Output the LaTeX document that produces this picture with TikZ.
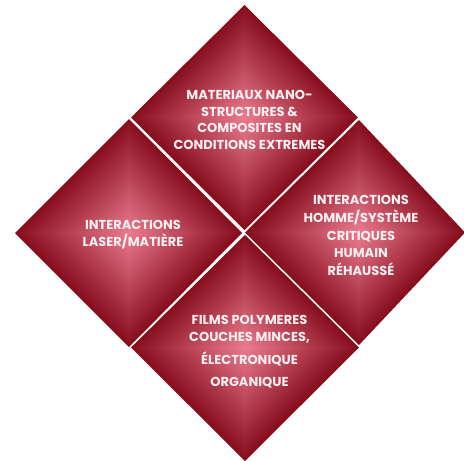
\documentclass[tikz,border=0pt]{standalone}
\usepackage{fontspec}
\setmainfont{Poppins}
\newfontfamily\lblfont{Poppins}
\usetikzlibrary{calc}
\definecolor{darkc}{HTML}{880E1E}
\definecolor{pinkc}{HTML}{EA7A8E}
\definecolor{txtc}{HTML}{FAF0F1}
\newcommand\shadedia[5]{%
  \foreach \i in {0,...,47}{%
    \pgfmathsetmacro\s{1-\i/48}%
    \pgfmathsetmacro\p{\i*100/47}%
    \fill[pinkc!\p!darkc] ($(#1)!\s!(#2)$) -- ($(#1)!\s!(#3)$) -- ($(#1)!\s!(#4)$) -- ($(#1)!\s!(#5)$) -- cycle;
  }}
\tikzset{
  lbl/.style={text=txtc, align=center, inner sep=0pt,
    font=\lblfont\bfseries\fontsize{13}{16.6}\selectfont},
  lblwide/.style={lbl, font=\lblfont\bfseries\fontsize{13}{17.8}\selectfont}
}
\begin{document}
\begin{tikzpicture}[x=1pt,y=-1pt]
\useasboundingbox (0,0) rectangle (464,461);
\clip (0,0) rectangle (464,461);
% top diamond
\coordinate (tc) at (244.5,117.5);
\coordinate (tn) at (244.5,5);
\coordinate (tw) at (131,117.5);
\coordinate (ts) at (244.5,230);
\coordinate (te) at (358,117.5);
% left diamond
\coordinate (lc) at (129,233);
\coordinate (ln) at (129,119);
\coordinate (lw) at (15,233);
\coordinate (ls) at (129,347);
\coordinate (le) at (242,233);
% right diamond
\coordinate (rc) at (359,232.5);
\coordinate (rn) at (359,120);
\coordinate (rw) at (245,232.5);
\coordinate (rs) at (359,345);
\coordinate (re) at (465,232.5);
% bottom diamond
\coordinate (bc) at (245,347.5);
\coordinate (bn) at (245,235);
\coordinate (bw) at (131,347.5);
\coordinate (bs) at (245,461);
\coordinate (be) at (359,347.5);
\shadedia{tc}{tn}{te}{ts}{tw}
\shadedia{lc}{ln}{le}{ls}{lw}
\shadedia{rc}{rn}{re}{rs}{rw}
\shadedia{bc}{bn}{be}{bs}{bw}
\node[lbl] (ttop) at (249.5,120) {MATERIAUX NANO-\\STRUCTURES \&\\COMPOSITES EN\\CONDITIONS EXTREMES};
\node[lbl] (tleft) at (133,234.5) {INTERACTIONS\\LASER/MATIÈRE};
\node[lblwide] (tright) at (361,235.5) {INTERACTIONS\\HOMME/SYSTÈME\\CRITIQUES\\HUMAIN\\RÉHAUSSÉ};
\node[lbl] (tbottom) at (249.5,351.5) {FILMS POLYMERES\\COUCHES MINCES,\\[7pt]ÉLECTRONIQUE\\[4.5pt]ORGANIQUE};
\end{tikzpicture}
\end{document}
